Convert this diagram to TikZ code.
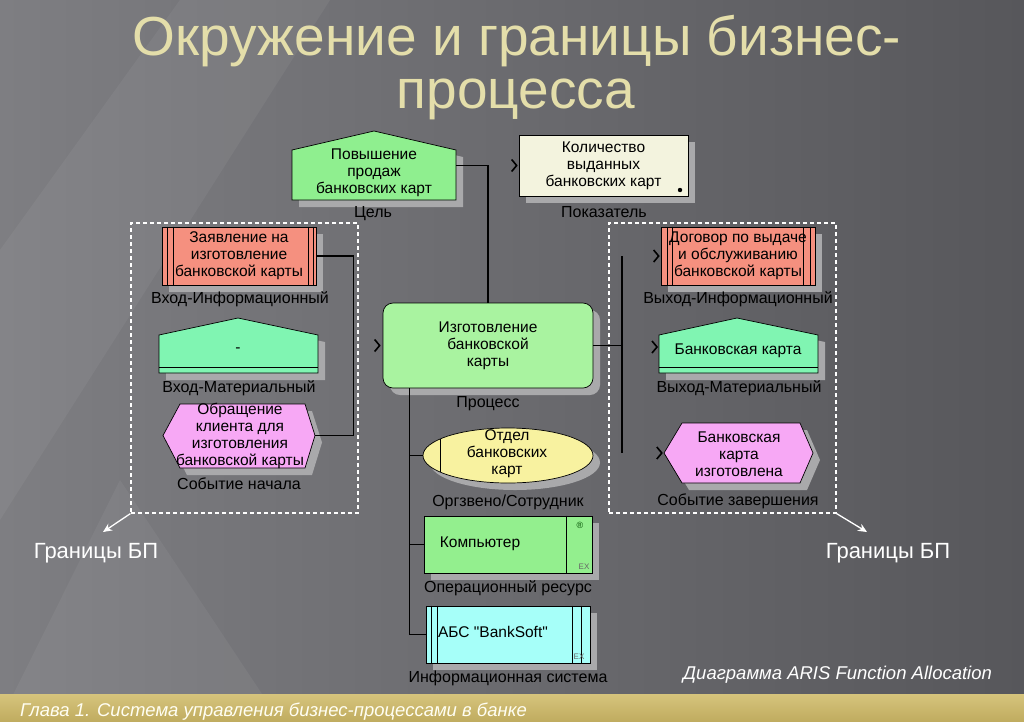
\documentclass[tikz,border=0pt]{standalone}
\usepackage{fontspec}
\setmainfont{Liberation Sans}
\newfontfamily\plainq{Liberation Sans}
\usetikzlibrary{arrows.meta,shadows,shapes.geometric}
\definecolor{bgL}{HTML}{7E7E82}
\definecolor{bgR}{HTML}{57575B}
\definecolor{goalg}{HTML}{8FEF8F}
\definecolor{procg}{HTML}{A9F3A0}
\definecolor{beige}{HTML}{F3F3DE}
\definecolor{salmon}{HTML}{F5907F}
\definecolor{mint}{HTML}{80F5B2}
\definecolor{violet}{HTML}{F7A8F5}
\definecolor{yell}{HTML}{F8F2A0}
\definecolor{compg}{HTML}{93EF8E}
\definecolor{cyanb}{HTML}{A6FFF9}
\definecolor{shadowc}{HTML}{A9A9AB}
\definecolor{titlec}{HTML}{E4DEAA}
\definecolor{bandT}{HTML}{D6C47C}
\definecolor{bandB}{HTML}{C0AC60}
\begin{document}
\begin{tikzpicture}[x=1pt,y=-1pt,
  txt/.style={font=\fontsize{15.5}{17}\selectfont, align=center, text=black, inner sep=0pt},
  lbl/.style={font=\fontsize{16}{17}\selectfont, text=black, inner sep=0pt},
  edge/.style={draw=black, line width=0.7pt},
  conn/.style={draw=black, line width=1.5pt},
  shd/.style={drop shadow={shadow xshift=7pt,shadow yshift=-7pt,fill=shadowc,opacity=1}},
  bb/.style={inner sep=0pt, minimum width=#1},
  bound/.style={draw=white, line width=1.1pt, dash pattern=on 4pt off 3pt, inner sep=0pt},
  wl/.style={text=white, inner sep=0pt, font=\fontsize{22}{24}\selectfont},
  ttl/.style={anchor=base, inner sep=0pt, text=titlec, font=\fontsize{55}{60}\selectfont},
  chev/.pic={\draw[line width=1.6pt] (-5,-6) -- (0,0) -- (-5,6);}
]
\useasboundingbox (0,0) rectangle (1024,721);
% background
\shade[left color=bgL, right color=bgR] (0,0) rectangle (1024,721);
\fill[white, opacity=0.05] (0,250) -- (180,0) -- (330,0) -- (0,520) -- cycle;
\fill[white, opacity=0.05] (0,721) -- (280,721) -- (120,480) -- cycle;
% band
\shade[top color=bandT, bottom color=bandB] (0,694) rectangle (1024,721);
\node[anchor=base west, inner sep=0pt, text=white!95!yellow, font=\fontsize{18.5}{20}\selectfont\itshape] (band) at (20,716) {Глава 1. Система управления бизнес-процессами в банке};

% title
\node[ttl] (t1) at (517,55) {Окружение и границы бизнес-};
\node[ttl] (t2) at (516,108) {процесса};

% dashed boundaries
\node[bound, minimum width=227, minimum height=290] (lbox) at (244.5,368) {};
\node[bound, minimum width=227, minimum height=290] (rbox) at (722.5,368) {};

% goal
\node[bb=164, minimum height=69] (goal) at (374,165.5) {};
\path[fill=shadowc, shift={(7,7)}] (292,200) -- (456,200) -- (456,150) -- (374,131) -- (292,150) -- cycle;
\path[edge, fill=goalg] (292,200) -- (456,200) -- (456,150) -- (374,131) -- (292,150) -- cycle;
\node[txt] (goalt) at (374,173) {Повышение\\продаж\\банковских карт};
\node[lbl] (goall) at (373,214) {Цель};

% indicator
\node[edge, fill=beige, shd, minimum width=169, minimum height=61, txt] (pok) at (603.5,165.5) {Количество\\выданных\\банковских карт};
\fill (680,190) circle (2.2);
\node[lbl] (pokl) at (604,212) {Показатель};
\pic at ([xshift=-2pt]pok.west) {chev};

% process
\node[edge, fill=procg, shd, rounded corners=10pt, minimum width=210, minimum height=85, txt] (proc) at (488,345.5) {Изготовление\\банковской\\карты};
\node[lbl] (procl) at (488,404) {Процесс};
\pic at ([xshift=-3pt]proc.west) {chev};

% left: information input
\node[edge, fill=salmon, shd, minimum width=154, minimum height=58, txt] (zay) at (239,256) {Заявление на\\изготовление\\банковской карты};
\foreach \s in {6,12} \draw[edge] ([xshift=\s pt]zay.north west) -- ([xshift=\s pt]zay.south west);
\foreach \s in {-8,-3} \draw[edge] ([xshift=\s pt]zay.north east) -- ([xshift=\s pt]zay.south east);
\node[lbl] (zayl) at (240,299) {Вход-Информационный};

% left: material input
\node[bb=159, minimum height=55] (mat) at (238.5,345.5) {};
\path[fill=shadowc, shift={(7,7)}] (159,373) -- (318,373) -- (318,335) -- (238,318) -- (159,335) -- cycle;
\path[edge, fill=mint] (159,373) -- (318,373) -- (318,335) -- (238,318) -- (159,335) -- cycle;
\draw[edge] (159,367) -- (318,367);
\node[txt] (matt) at (238,350) {-};
\node[lbl] (matl) at (239,388) {Вход-Материальный};

% left: start event
\node[bb=152, minimum height=64] (obr) at (239,435.5) {};
\path[fill=shadowc, shift={(7,7)}] (163,435.5) -- (180,404) -- (305,404) -- (315,435.5) -- (305,468) -- (180,468) -- cycle;
\path[edge, fill=violet] (163,435.5) -- (180,404) -- (305,404) -- (315,435.5) -- (305,468) -- (180,468) -- cycle;
\node[txt] (obrt) at (240,436) {Обращение\\клиента для\\изготовления\\банковской карты};
\node[lbl] (obrl) at (239,484) {Событие начала};

% left connector
\draw[conn] (zay.east) -- ++(37,0) |- (obr.east);

% right: information output
\node[edge, fill=salmon, shd, minimum width=154, minimum height=58, txt] (dog) at (738,256) {Договор по выдаче\\и обслуживанию\\банковской карты};
\foreach \s in {7,12} \draw[edge] ([xshift=\s pt]dog.north west) -- ([xshift=\s pt]dog.south west);
\foreach \s in {-12,-5} \draw[edge] ([xshift=\s pt]dog.north east) -- ([xshift=\s pt]dog.south east);
\node[lbl] (dogl) at (738,299) {Выход-Информационный};
\pic at ([xshift=-2pt]dog.west) {chev};

% right: material output
\node[bb=159, minimum height=55] (bk) at (738.5,345.5) {};
\path[fill=shadowc, shift={(7,7)}] (659,373) -- (818,373) -- (818,335) -- (737,318) -- (659,335) -- cycle;
\path[edge, fill=mint] (659,373) -- (818,373) -- (818,335) -- (737,318) -- (659,335) -- cycle;
\draw[edge] (659,367) -- (818,367);
\node[txt] (bkt) at (738,351) {Банковская карта};
\node[lbl] (bkl) at (739,388) {Выход-Материальный};
\pic at (657,347) {chev};

% right: end event
\node[bb=149, minimum height=60] (bki) at (738.5,453) {};
\path[fill=shadowc, shift={(7,7)}] (664,453) -- (682,423) -- (800,423) -- (813,453) -- (800,483) -- (682,483) -- cycle;
\path[edge, fill=violet] (664,453) -- (682,423) -- (800,423) -- (813,453) -- (800,483) -- (682,483) -- cycle;
\node[txt] (bkit) at (739,454) {Банковская\\карта\\изготовлена};
\node[lbl] (bkil) at (738,501) {Событие завершения};
\pic at ([xshift=-2pt]bki.west) {chev};

% right connector
\coordinate (rbus) at (622,345.5);
\coordinate (rtop) at (622,256);
\coordinate (rbot) at (622,453);
\draw[conn] (proc.east) -- (rbus);
\draw[conn] (rtop) -- (rbot);

% top connector
\draw[conn] (goal.east) -| (proc.north);

% org unit
\node[ellipse, edge, fill=yell, shd, minimum width=170, minimum height=55, inner sep=0pt] (org) at (508,455.5) {};
\draw[edge] (440,439) -- (440,472);
\node[txt] (orgt) at (507,454) {Отдел\\банковских\\карт};
\node[lbl] (orgl) at (508,502) {Оргзвено/Сотрудник};

% computer
\node[edge, fill=compg, shd, minimum width=168, minimum height=57] (comp) at (508,544.5) {};
\draw[edge] ([xshift=-26pt]comp.north east) -- ([xshift=-26pt]comp.south east);
\node[txt] (compt) at (480,544) {Компьютер};
\node[inner sep=0pt, font=\fontsize{9}{9}\selectfont, text=black!70!green] (reg) at (580,525) {®};
\node[inner sep=0pt, font=\fontsize{8}{8}\selectfont, text=black!60] (ex1) at (584,567) {EX};
\node[lbl] (compl) at (508,588) {Операционный ресурс};

% information system
\node[edge, fill=cyanb, shd, minimum width=164, minimum height=57] (abs) at (508,634.5) {};
\foreach \s in {6,12} \draw[edge] ([xshift=\s pt]abs.north west) -- ([xshift=\s pt]abs.south west);
\foreach \s in {-18,-9} \draw[edge] ([xshift=\s pt]abs.north east) -- ([xshift=\s pt]abs.south east);
\node[txt] (abst) at (493,632) {\plainq АБС "BankSoft"};
\node[inner sep=0pt, font=\fontsize{8}{8}\selectfont, text=black!60] (ex2) at (579,657) {EX};
\node[lbl] (absl) at (508,678) {Информационная система};

% bottom connector
\coordinate (bbus) at ([xshift=27pt]proc.south west);
\draw[conn] (bbus) |- (abs.west);
\draw[conn] (bbus |- org.west) -- (org.west);
\draw[conn] (bbus |- comp.west) -- (comp.west);

% boundary labels
\node[wl, anchor=base] (bpl) at (96,558) {Границы БП};
\node[wl, anchor=base] (bpr) at (888,558) {Границы БП};
\coordinate (al) at (103,532);
\coordinate (ar) at (867,532);
\draw[white, line width=1.3pt, -{Stealth[length=9pt,width=8pt]}] (lbox.south west) -- (al);
\draw[white, line width=1.3pt, -{Stealth[length=9pt,width=8pt]}] (rbox.south east) -- (ar);

% caption
\node[anchor=base west, inner sep=0pt, text=white, font=\fontsize{18.5}{20}\selectfont\itshape] (cap) at (683,679) {Диаграмма ARIS Function Allocation};
\end{tikzpicture}
\end{document}
